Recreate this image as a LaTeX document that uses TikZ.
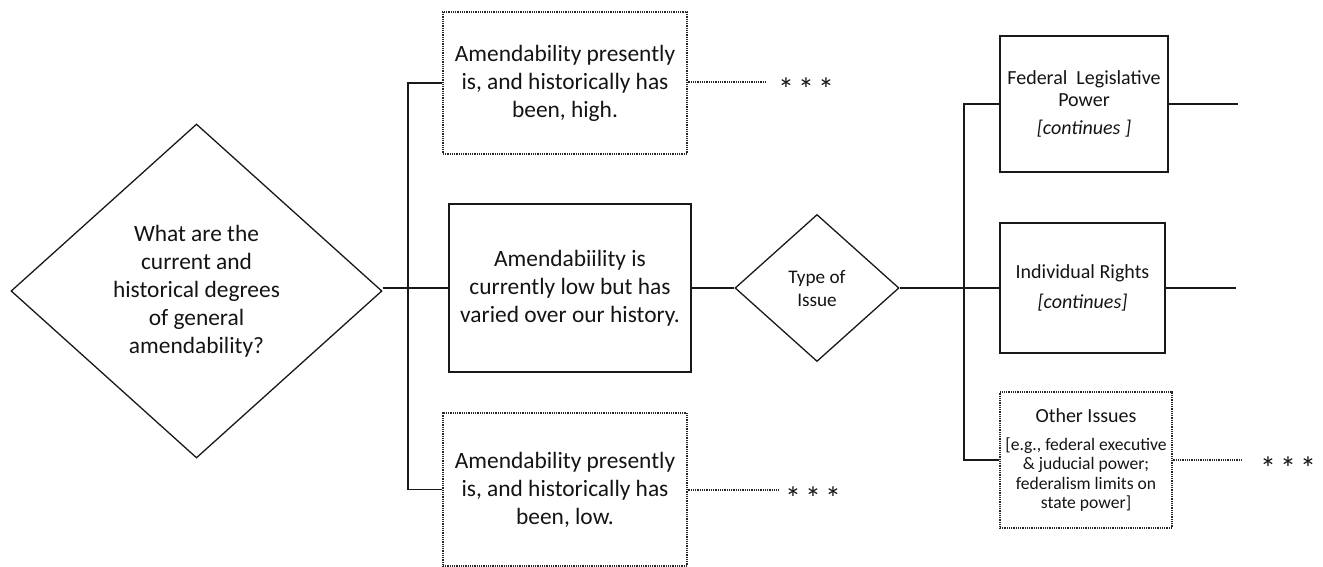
\documentclass[tikz,border=0pt]{standalone}
\usepackage{fontspec}
\setmainfont{Carlito}
\usetikzlibrary{shapes.geometric}

\tikzset{
  conn/.style={line width=1.3pt, draw=black!90},
  dotconn/.style={line width=1.1pt, draw=black!85, dash pattern=on 0.9pt off 0.9pt},
  bigtext/.style={font=\fontsize{23.4}{28}\selectfont, text=black!92, align=center},
  midtext/.style={font=\fontsize{20}{22}\selectfont, text=black!92, align=center},
  smalltext/.style={font=\fontsize{17.6}{19.5}\selectfont, text=black!92, align=center},
  solidbox/.style={rectangle, draw=black!90, line width=1.3pt, inner sep=0pt},
  dotbox/.style={rectangle, dotconn, inner sep=0pt},
  question/.style={diamond, draw=black!90, line width=1.3pt, inner sep=0pt, aspect=1.1},
  stars/.style={font=\fontsize{32}{34}\selectfont, text=black!92, anchor=base west, inner sep=0pt}
}
\newcommand{\threestars}{*\hspace{4pt}*\hspace{4pt}*}

\begin{document}
\begin{tikzpicture}[x=1pt, y=-1pt]
  \useasboundingbox (0,0) rectangle (1323,567);

  % first decision and its three outcomes
  \node[question, bigtext, minimum width=371pt, minimum height=334pt] (q) at (196.5,291)
    {What are the\\current and\\historical degrees\\of general\\amendability?};

  \node[dotbox, bigtext, minimum width=244pt, minimum height=142pt] (high) at (565,83)
    {Amendability presently\\is, and historically has\\been, high.};
  \node[solidbox, bigtext, minimum width=242pt, minimum height=168pt] (mid) at (570,288)
    {\rule{0pt}{12pt}Amendabiility is\\currently low but has\\varied over our history.};
  \node[dotbox, bigtext, minimum width=244pt, minimum height=153pt] (low) at (565,489.5)
    {Amendability presently\\is, and historically has\\been, low.};

  % second decision and the issue categories
  \node[question, font=\fontsize{19.2}{23}\selectfont, text=black!92, align=center,
        minimum width=164pt, minimum height=147pt] (type) at (817,288) {Type of\\Issue};

  \node[solidbox, midtext, minimum width=168pt, minimum height=136pt] (fed) at (1084,104)
    {Federal\ \ Legislative\\Power\\[6pt]\textit{[continues ]}};
  \node[solidbox, midtext, minimum width=165pt, minimum height=130pt] (ind) at (1082.5,288)
    {Individual Rights\\[8pt]\textit{[continues]}};
  \node[dotbox, smalltext, minimum width=172pt, minimum height=136pt] (other) at (1086,460)
    {{\fontsize{20}{22}\selectfont Other Issues}\\[8pt][e.g., federal executive\\\& juducial power;\\federalism limits on\\state power]};

  % trunks of the two branchings
  \coordinate (lt) at (408,288);
  \coordinate (rt) at (964,288);

  \draw[conn] (q.east |- mid.west) -- (mid.west);
  \draw[conn] (high.west) -| (lt) |- (low.west);
  \draw[conn] (mid.east) -- (type.west);
  \draw[conn] (type.east) -- (ind.west);
  \draw[conn] (fed.west) -| (rt) |- (other.west);

  % open continuations
  \coordinate (fedend) at (1238,104);
  \coordinate (indend) at (1236,288);
  \draw[conn] (fed.east) -- (fedend);
  \draw[conn] (ind.east) -- (indend);

  \coordinate (highend) at (765,82);
  \coordinate (lowend) at (778,490);
  \coordinate (otherend) at (1242,460);
  \draw[dotconn] (high.east |- highend) -- (highend);
  \draw[dotconn] (low.east |- lowend) -- (lowend);
  \draw[dotconn] (other.east) -- (otherend);

  \node[stars] (s1) at (778,101) {\threestars};
  \node[stars] (s2) at (785,509) {\threestars};
  \node[stars] (s3) at (1260,479) {\threestars};
\end{tikzpicture}
\end{document}
